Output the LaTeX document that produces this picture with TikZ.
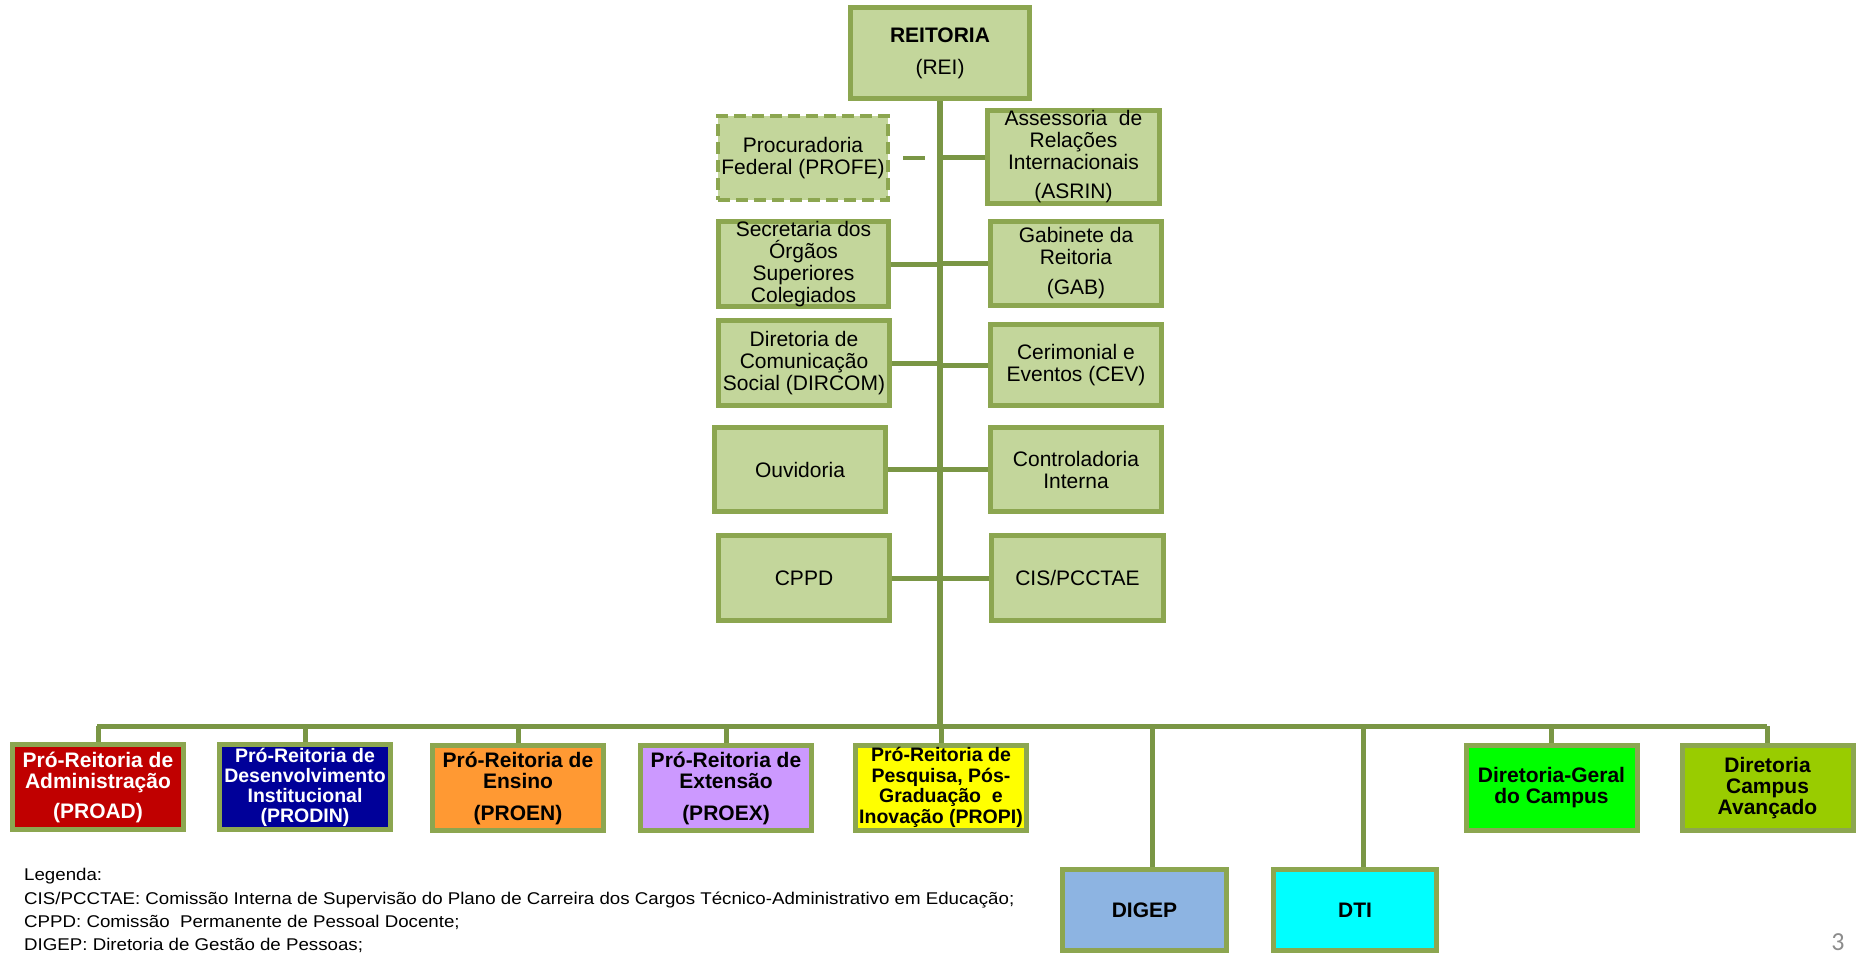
\documentclass[tikz,border=0pt]{standalone}
\usepackage{fontspec}
\setmainfont{Liberation Sans}
\newfontfamily\legfont[FakeStretch=1.10]{Liberation Sans}
\newfontfamily\pagefont{Carlito}
\usetikzlibrary{backgrounds}
\definecolor{gfill}{HTML}{C3D69B}
\definecolor{bordc}{HTML}{8CA650}
\definecolor{linec}{HTML}{7A9645}
\definecolor{cproad}{HTML}{C00000}
\definecolor{cprodin}{HTML}{000099}
\definecolor{cproen}{HTML}{FF9933}
\definecolor{cproex}{HTML}{CC99FF}
\definecolor{cpropi}{HTML}{FFFF00}
\definecolor{cdigep}{HTML}{8DB4E2}
\definecolor{cdti}{HTML}{00FFFF}
\definecolor{cdgc}{HTML}{00FF00}
\definecolor{cdca}{HTML}{99CC00}
\begin{document}
\begin{tikzpicture}[x=1pt,y=-1pt,
  box/.style={draw=bordc, line width=5pt, minimum width=171pt, minimum height=85pt, inner sep=0pt, align=center},
  gbox/.style={box, fill=gfill, font=\fontsize{21}{22}\selectfont},
  cbox/.style={box, font=\bfseries\fontsize{21}{21}\selectfont},
  conn/.style={draw=linec, line width=5pt},
  legtext/.style={anchor=base west, inner sep=0pt, font=\legfont\fontsize{17}{20}\selectfont}
]
\useasboundingbox (0,0) rectangle (1864,954);

% upper boxes
\node[gbox, minimum width=179pt, minimum height=91pt] (rei) at (940,53) {\textbf{REITORIA}\\[10pt](REI)};
\node[gbox, line width=4.5pt, dash pattern=on 12pt off 6pt, minimum width=170pt, minimum height=84pt] (profe) at (803,158) {Procuradoria\\Federal (PROFE)};
\node[gbox, minimum width=172pt, minimum height=85pt] (asrin) at (1073.5,157) {Assessoria\ \ de\\Relações\\Internacionais\\[7pt](ASRIN)};
\node[gbox, minimum width=170pt, minimum height=79pt] (sec) at (803.5,264) {Secretaria dos\\Órgãos\\Superiores\\Colegiados};
\node[gbox, minimum height=84pt] (gab) at (1076,263.5) {Gabinete da\\Reitoria\\[8pt](GAB)};
\node[gbox] (dircom) at (804,363) {Diretoria de\\Comunicação\\Social (DIRCOM)};
\node[gbox, minimum height=81pt] (cev) at (1076,365) {Cerimonial e\\Eventos (CEV)};
\node[gbox, minimum height=84pt] (ouv) at (800,469.5) {Ouvidoria};
\node[gbox, minimum height=84pt] (ctrl) at (1076,469.5) {Controladoria\\Interna};
\node[gbox] (cppd) at (804,578) {CPPD};
\node[gbox, minimum width=172pt] (cis) at (1077.5,578) {CIS/PCCTAE};

% lower boxes
\node[cbox, fill=cproad, text=white] (proad) at (98,787) {Pró-Reitoria de\\Administração\\[9pt](PROAD)};
\node[cbox, fill=cprodin, text=white, font=\bfseries\fontsize{19.5}{20}\selectfont] (prodin) at (305,787) {Pró-Reitoria de\\Desenvolvimento\\Institucional\\(PRODIN)};
\node[cbox, fill=cproen] (proen) at (518,788) {Pró-Reitoria de\\Ensino\\[11pt](PROEN)};
\node[cbox, fill=cproex] (proex) at (726,788) {Pró-Reitoria de\\Extensão\\[11pt](PROEX)};
\node[cbox, fill=cpropi, font=\bfseries\fontsize{19.5}{20.7}\selectfont] (propi) at (941,787.5) {Pró-Reitoria de\\Pesquisa, Pós-\\Graduação\ \ e\\Inovação (PROPI)};
\node[cbox, fill=cdigep, minimum width=164pt, minimum height=81pt] (digep) at (1144.5,910) {DIGEP};
\node[cbox, fill=cdti, minimum width=163pt, minimum height=81pt] (dti) at (1355,910) {DTI};
\node[cbox, fill=cdgc] (dgc) at (1551.5,788) {Diretoria-Geral\\do Campus};
\node[cbox, fill=cdca] (dca) at (1767.5,788) {Diretoria\\Campus\\Avançado};

% connectors
\coordinate (barL) at (97,726);
\coordinate (barR) at (1767,726);
\coordinate (jD) at (1152,726);
\coordinate (jT) at (1363,726);
\coordinate (d1) at (903,158);
\coordinate (d2) at (925,158);
\begin{scope}[on background layer]
\draw[conn, line width=6pt] (rei.south) -- (rei.south |- barL);
\draw[conn] (barL) -- (barR);
\draw[conn, line width=4pt] (d1) -- (d2);
\draw[conn] (asrin.west) -- (asrin.west -| rei.south);
\draw[conn] (sec.east) -- (sec.east -| rei.south);
\draw[conn] (gab.west) -- (gab.west -| rei.south);
\draw[conn] (dircom.east) -- (dircom.east -| rei.south);
\draw[conn] (cev.west) -- (cev.west -| rei.south);
\draw[conn] (ouv.east) -- (ouv.east -| rei.south);
\draw[conn] (ctrl.west) -- (ctrl.west -| rei.south);
\draw[conn] (cppd.east) -- (cppd.east -| rei.south);
\draw[conn] (cis.west) -- (cis.west -| rei.south);
\draw[conn] (proad.north |- barL) -- (proad.north);
\draw[conn] (prodin.north |- barL) -- (prodin.north);
\draw[conn] (proen.north |- barL) -- (proen.north);
\draw[conn] (proex.north |- barL) -- (proex.north);
\draw[conn] (propi.north |- barL) -- (propi.north);
\draw[conn] (jD) -- (jD |- digep.north);
\draw[conn] (jT) -- (jT |- dti.north);
\draw[conn] (dgc.north |- barL) -- (dgc.north);
\draw[conn] (dca.north |- barL) -- (dca.north);
\end{scope}

% legend
\node[legtext] (leg1) at (24,880) {Legenda:};
\node[legtext] (leg2) at (24,904) {CIS/PCCTAE: Comissão Interna de Supervisão do Plano de Carreira dos Cargos Técnico-Administrativo em Educação;};
\node[legtext] (leg3) at (24,927) {CPPD: Comissão\ \ Permanente de Pessoal Docente;};
\node[legtext] (leg4) at (24,950) {DIGEP: Diretoria de Gestão de Pessoas;};

\node[anchor=base, inner sep=0pt, text=black!45, font=\pagefont\fontsize{26}{26}\selectfont] (pg) at (1838,950) {3};
\end{tikzpicture}
\end{document}
